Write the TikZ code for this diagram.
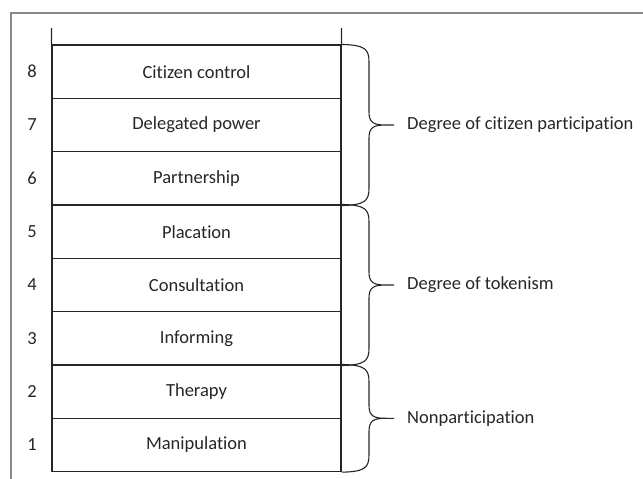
\documentclass[tikz,border=0pt]{standalone}
\usepackage{fontspec}
\setmainfont{Carlito}[Ligatures={NoCommon,NoRare},Contextuals=NoAlternate]
\definecolor{framegray}{HTML}{8A8A8A}
\definecolor{ink}{HTML}{262626}
\begin{document}
\begin{tikzpicture}[x=1pt,y=-1pt,
  rung/.style={draw=ink,line width=1.1pt,minimum width=289pt,minimum height=53.33pt,inner sep=0pt,
    font=\fontsize{18.5}{22}\selectfont,text=ink},
  num/.style={font=\fontsize{18.5}{22}\selectfont,text=ink,inner sep=0pt},
  grp/.style={font=\fontsize{18.5}{22}\selectfont,text=ink,anchor=west,inner sep=0pt},
  rail/.style={draw=ink,line width=1.1pt},
  bracepath/.style={draw=ink,line width=1.1pt}]
\useasboundingbox (0,0) rectangle (643,479);
% outer frame (top and left only)
\draw[framegray,line width=1.5pt] (11,479) -- (11,13) -- (643,13);
% ladder rungs
\foreach \n/\t [count=\i from 0] in {8/Citizen control,7/Delegated power,6/Partnership,5/Placation,4/Consultation,3/Informing,2/Therapy,1/Manipulation}{
  \node[rung] (r\n) at (196.5,{71.67+53.33*\i}) {\t};
  \node[num] (n\n) at (32,{71.67+53.33*\i}) {\n};
}
% rails above the ladder
\coordinate (tl) at (51.5,28);
\coordinate (tr) at (341.5,28);
\draw[rail] (tl) -- (r8.north west);
\draw[rail] (tr) -- (r8.north east);
% braces
\coordinate (b1) at (394,125);
\coordinate (b2) at (394,285);
\coordinate (b3) at (394,418.3);
\draw[bracepath] (r8.north east) .. controls (365,45) and (369,49) .. (369,62)
  -- (369,112) .. controls (369,123) and (374,125) .. (386,125) -- (b1)
  -- (386,125) .. controls (374,125) and (369,127) .. (369,138)
  -- (369,188) .. controls (369,201) and (365,205) .. (r6.south east);
\draw[bracepath] (r5.north east) .. controls (365,205) and (369,209) .. (369,222)
  -- (369,272) .. controls (369,283) and (374,285) .. (386,285) -- (b2)
  -- (386,285) .. controls (374,285) and (369,287) .. (369,298)
  -- (369,348) .. controls (369,361) and (365,365) .. (r3.south east);
\draw[bracepath] (r2.north east) .. controls (365,365) and (369,369) .. (369,382)
  -- (369,405.3) .. controls (369,416.3) and (374,418.3) .. (386,418.3) -- (b3)
  -- (386,418.3) .. controls (374,418.3) and (369,420.3) .. (369,431.3)
  -- (369,454.7) .. controls (369,467.7) and (365,471.7) .. (r1.south east);
\node[grp] (g1) at (407,125) {Degree of citizen participation};
\node[grp] (g2) at (407,285) {Degree of tokenism};
\node[grp] (g3) at (407,418.3) {Nonparticipation};
\end{tikzpicture}
\end{document}
